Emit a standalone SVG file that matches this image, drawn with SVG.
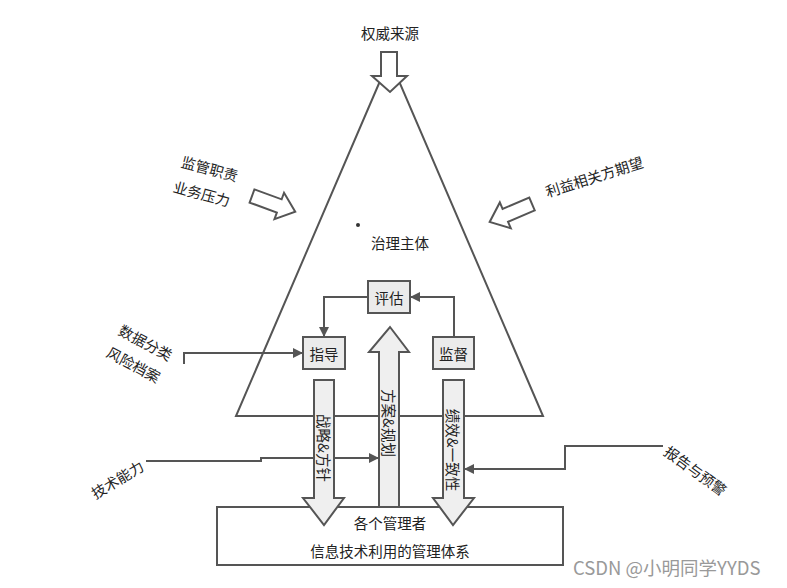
<svg xmlns="http://www.w3.org/2000/svg" width="787" height="588" viewBox="0 0 787 588">
<style>
text{font-family:"Microsoft YaHei","Noto Sans CJK SC","Noto Sans",sans-serif;font-size:14.5px;fill:#222;}
.c{text-anchor:middle;dominant-baseline:central;}
.ln{fill:none;stroke:#555;stroke-width:2;}
.box{fill:#ebebeb;stroke:#555;stroke-width:2;}
.ar{fill:#efefef;stroke:#555;stroke-width:2;stroke-linejoin:miter;}
.hol{fill:#fff;stroke:#555;stroke-width:2;}
</style>
<defs>
<marker id="ah" viewBox="0 0 10 10" refX="9" refY="5" markerWidth="10" markerHeight="10" markerUnits="userSpaceOnUse" orient="auto">
<path d="M0,0 L10,5 L0,10 z" fill="#555"/>
</marker>
</defs>
<rect width="787" height="588" fill="#fff"/>

<g id="triangle">
<polygon class="ln" points="389.5,59 236,416 543,416"/>
<circle cx="358" cy="225" r="2" fill="#333"/>
<text class="c" x="400" y="242">治理主体</text>
</g>

<g id="bottom-box">
<rect x="217" y="507" width="346" height="58" fill="#fff" stroke="#555" stroke-width="2"/>
<text class="c" x="390" y="522">各个管理者</text>
<text class="c" x="390" y="550">信息技术利用的管理体系</text>
</g>

<g id="authority">
<text class="c" x="390" y="32">权威来源</text>
<polygon class="hol" points="381,52 397,52 397,76 407,76 390,92 372,76 381,76"/>
</g>

<g id="duty">
<text class="c" x="210" y="168" transform="rotate(15 210 168)">监管职责</text>
<text class="c" x="202" y="193" transform="rotate(15 202 193)">业务压力</text>
<polygon class="hol" transform="translate(252,196) rotate(20)" points="0,-7 29,-7 29,-14 46,0 29,14 29,7 0,7"/>
</g>

<g id="stakeholder">
<text class="c" x="594" y="176" transform="rotate(-17.5 594 176)">利益相关方期望</text>
<polygon class="hol" transform="translate(532,204) rotate(157)" points="0,-7 29,-7 29,-14 46,0 29,14 29,7 0,7"/>
</g>

<g id="connectors">
<polyline class="ln" points="454,337 454,297 411,297" marker-end="url(#ah)"/>
<polyline class="ln" points="368,297 324,297 324,336" marker-end="url(#ah)"/>
<polyline class="ln" points="184,364 184,353 302,353" marker-end="url(#ah)"/>
<polyline class="ln" points="146,461 261,461 261,458 378,458" marker-end="url(#ah)"/>
<polyline class="ln" points="663,446 565,446 565,469 465,469" marker-end="url(#ah)"/>
</g>

<g id="eval">
<rect class="box" x="368" y="281" width="42" height="32"/>
<text class="c" x="389" y="297">评估</text>
</g>
<g id="direct">
<rect class="box" x="303" y="337" width="42" height="32"/>
<text class="c" x="324" y="353">指导</text>
</g>
<g id="monitor">
<rect class="box" x="433" y="337" width="41" height="32"/>
<text class="c" x="453.5" y="353">监督</text>
</g>

<g id="arrow-strategy">
<polygon class="ar" points="314,380 334,380 334,498 344,498 324,525 303,498 314,498"/>
<text class="c" x="324" y="448" transform="rotate(90 324 448)">战略&amp;方针</text>
</g>
<g id="arrow-plan">
<polygon class="ar" points="390,327 409,352 399,352 399,507 379,507 379,352 369,352"/>
<text class="c" x="389" y="423" transform="rotate(90 389 423)">方案&amp;规划</text>
</g>
<g id="arrow-perf">
<polygon class="ar" points="443,380 464,380 464,498 474,498 453,525 433,498 443,498"/>
<text class="c" x="453.5" y="450" transform="rotate(90 453.5 450)">绩效&amp;一致性</text>
</g>

<g id="data">
<text class="c" x="146" y="342" transform="rotate(28 146 342)">数据分类</text>
<text class="c" x="134" y="364" transform="rotate(28 134 364)">风险档案</text>
</g>
<g id="tech">
<text class="c" x="117" y="479" transform="rotate(-31 117 479)">技术能力</text>
</g>
<g id="report">
<text class="c" x="696" y="470" transform="rotate(36 696 470)">报告与预警</text>
</g>

<text x="573" y="575" style="font-size:18.5px;fill:#999;font-family:'Microsoft YaHei','Noto Sans CJK SC',sans-serif">CSDN @小明同学YYDS</text>
</svg>
